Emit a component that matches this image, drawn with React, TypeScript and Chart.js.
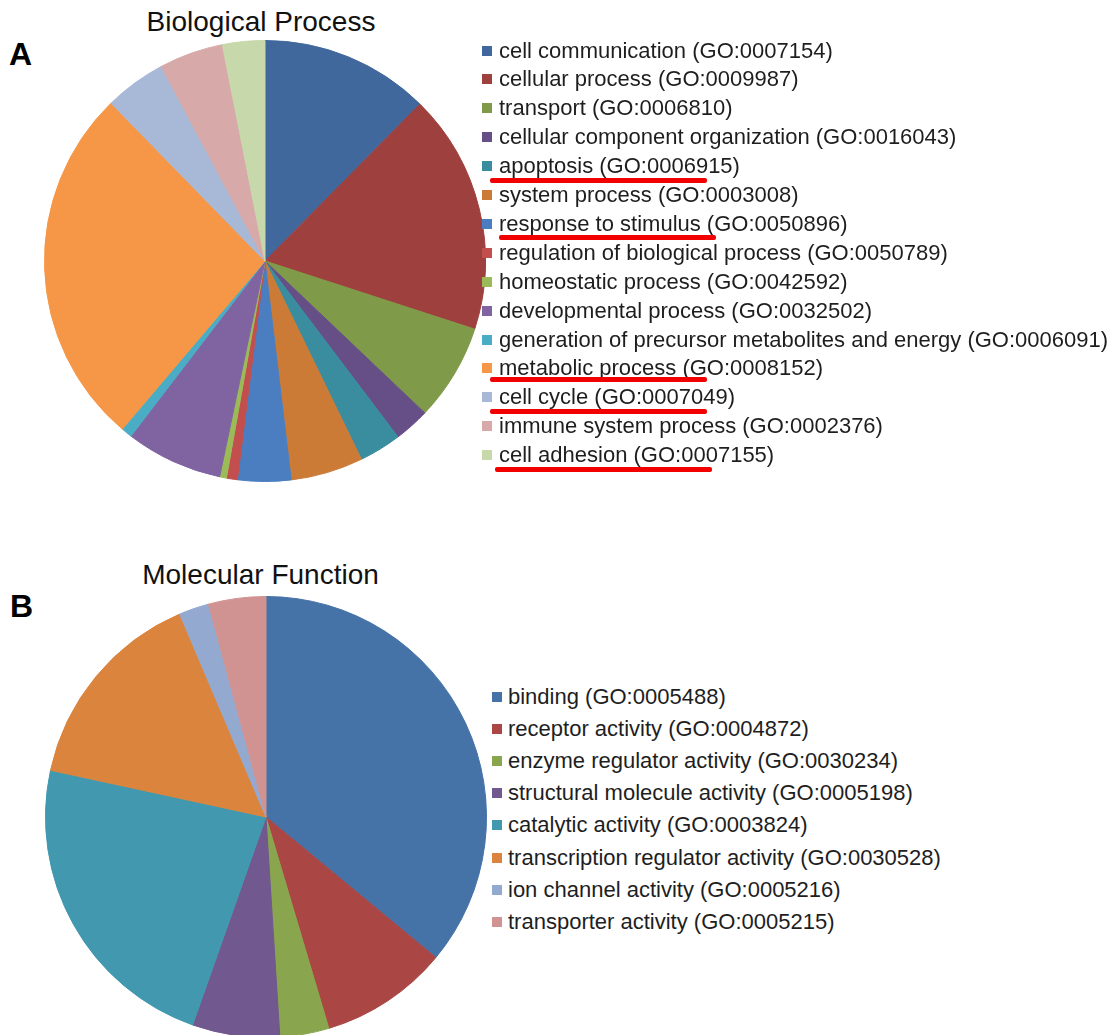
import React, { useEffect, useRef } from "react";
import { Chart, registerables } from "chart.js";

Chart.register(...registerables);

// ---------- Data: A, Biological Process ----------
const bpLabels = [
  "cell communication (GO:0007154)",
  "cellular process (GO:0009987)",
  "transport (GO:0006810)",
  "cellular component organization (GO:0016043)",
  "apoptosis (GO:0006915)",
  "system process (GO:0003008)",
  "response to stimulus (GO:0050896)",
  "regulation of biological process (GO:0050789)",
  "homeostatic process (GO:0042592)",
  "developmental process (GO:0032502)",
  "generation of precursor metabolites and energy (GO:0006091)",
  "metabolic process (GO:0008152)",
  "cell cycle (GO:0007049)",
  "immune system process (GO:0002376)",
  "cell adhesion (GO:0007155)",
];
const bpValues = [12.4, 17.6, 7.1, 2.6, 3.1, 5.3, 3.9, 0.8, 0.5, 7.1, 0.8, 26.5, 4.5, 4.7, 3.1];
const bpColors = [
  "#41689D", "#9E413E", "#7F9A48", "#654F86", "#3A8C9F",
  "#CC7B37", "#4A7EC1", "#C24E4D", "#9BBB59", "#8064A1",
  "#4AACC5", "#F59747", "#A8B8D7", "#D7A9A8", "#C7D8AA",
];
// red underline annotations: legend row, x start, x end, y offset from row centre
const bpUnderlineRows = [4, 6, 11, 12, 14];
const bpUnderlineX0 = [490, 499, 490, 490, 495];
const bpUnderlineX1 = [707, 716, 707, 707, 712];
const bpUnderlineDy = [14, 13.5, 11, 14, 14];

// ---------- Data: B, Molecular Function ----------
const mfLabels = [
  "binding (GO:0005488)",
  "receptor activity (GO:0004872)",
  "enzyme regulator activity (GO:0030234)",
  "structural molecule activity (GO:0005198)",
  "catalytic activity (GO:0003824)",
  "transcription regulator activity (GO:0030528)",
  "ion channel activity (GO:0005216)",
  "transporter activity (GO:0005215)",
];
const mfValues = [36.0, 9.4, 3.6, 6.4, 23.0, 15.2, 2.2, 4.2];
const mfColors = [
  "#4572A7", "#AA4643", "#89A54E", "#71588F",
  "#4198AF", "#DB843D", "#93A9CF", "#D09392",
];

const FONT = '"Liberation Sans", Arial, "Helvetica Neue", sans-serif';

function Pie(props: {
  labels: string[];
  values: number[];
  colors: string[];
  left: number;
  top: number;
  size: number;
}) {
  const ref = useRef<HTMLCanvasElement | null>(null);
  useEffect(() => {
    if (!ref.current) return;
    const chart = new Chart(ref.current, {
      type: "pie",
      data: {
        labels: props.labels,
        datasets: [
          {
            data: props.values,
            backgroundColor: props.colors,
            borderColor: props.colors,
            borderWidth: 1,
          },
        ],
      },
      options: {
        responsive: false,
        animation: false,
        layout: { padding: 0 },
        plugins: {
          legend: { display: false },
          tooltip: { enabled: false },
          title: { display: false },
        },
      },
    });
    return () => chart.destroy();
  }, []);
  return (
    <canvas
      ref={ref}
      width={props.size}
      height={props.size}
      style={{
        position: "absolute",
        left: props.left,
        top: props.top,
        width: props.size,
        height: props.size,
      }}
    />
  );
}

function Legend(props: {
  labels: string[];
  colors: string[];
  markerLeft: number;
  textLeft: number;
  firstCenter: number;
  spacing: number;
  fontSize: number;
  markerSize: number;
}) {
  return (
    <>
      {props.labels.map((lab, i) => {
        const cy = props.firstCenter + i * props.spacing;
        return (
          <React.Fragment key={lab}>
            <div
              style={{
                position: "absolute",
                left: props.markerLeft,
                top: cy - props.markerSize / 2,
                width: props.markerSize,
                height: props.markerSize,
                background: props.colors[i],
              }}
            />
            <div
              style={{
                position: "absolute",
                left: props.textLeft,
                top: cy - 15,
                height: 30,
                lineHeight: "30px",
                fontFamily: FONT,
                fontSize: props.fontSize,
                color: "#1e1e1e",
                whiteSpace: "nowrap",
              }}
            >
              {lab}
            </div>
          </React.Fragment>
        );
      })}
    </>
  );
}

export default function App() {
  const bpFirst = 50.5;
  const bpSpacing = 28.9;
  return (
    <div
      style={{
        position: "absolute",
        left: 0,
        top: 0,
        width: 1115,
        height: 1035,
        overflow: "hidden",
        background: "#fff",
      }}
    >
      {/* Panel A */}
      <div
        style={{
          position: "absolute",
          left: 9,
          top: 37.5,
          fontFamily: FONT,
          fontWeight: "bold",
          fontSize: 32,
          lineHeight: "32px",
          color: "#000",
        }}
      >
        A
      </div>
      <div
        style={{
          position: "absolute",
          left: 261,
          top: 8.3,
          transform: "translateX(-50%)",
          fontFamily: FONT,
          fontSize: 28,
          lineHeight: "28px",
          color: "#111",
          whiteSpace: "nowrap",
        }}
      >
        Biological Process
      </div>
      <Pie labels={bpLabels} values={bpValues} colors={bpColors} left={44} top={40} size={442} />
      <Legend
        labels={bpLabels}
        colors={bpColors}
        markerLeft={482}
        textLeft={499}
        firstCenter={bpFirst}
        spacing={bpSpacing}
        fontSize={22}
        markerSize={10}
      />
      {bpUnderlineRows.map((row, k) => (
        <div
          key={"u" + k}
          style={{
            position: "absolute",
            left: bpUnderlineX0[k],
            top: bpFirst + row * bpSpacing + bpUnderlineDy[k] - 2.5,
            width: bpUnderlineX1[k] - bpUnderlineX0[k],
            height: 5,
            borderRadius: 2,
            background: "#F20000",
          }}
        />
      ))}

      {/* Panel B */}
      <div
        style={{
          position: "absolute",
          left: 10,
          top: 589.5,
          fontFamily: FONT,
          fontWeight: "bold",
          fontSize: 32,
          lineHeight: "32px",
          color: "#000",
        }}
      >
        B
      </div>
      <div
        style={{
          position: "absolute",
          left: 260.5,
          top: 561.3,
          transform: "translateX(-50%)",
          fontFamily: FONT,
          fontSize: 28,
          lineHeight: "28px",
          color: "#111",
          whiteSpace: "nowrap",
        }}
      >
        Molecular Function
      </div>
      <Pie labels={mfLabels} values={mfValues} colors={mfColors} left={45} top={596} size={442} />
      <Legend
        labels={mfLabels}
        colors={mfColors}
        markerLeft={492}
        textLeft={508}
        firstCenter={697}
        spacing={32.1}
        fontSize={22}
        markerSize={10}
      />
    </div>
  );
}
